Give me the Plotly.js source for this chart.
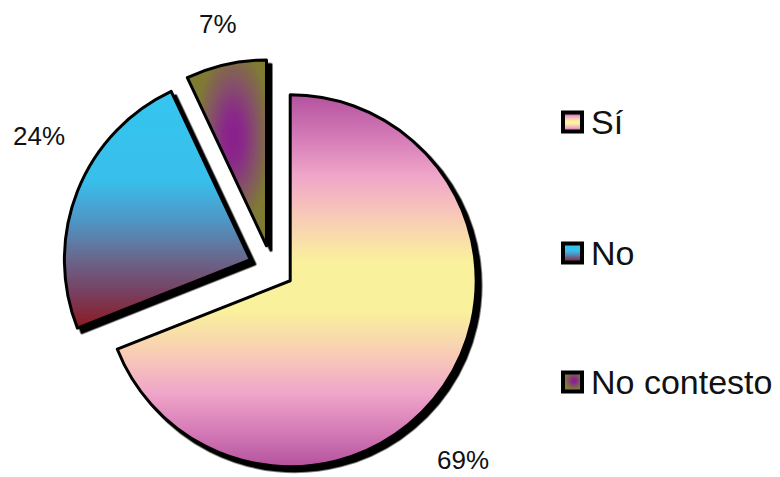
<!DOCTYPE html>
<html>
<head>
<meta charset="utf-8">
<script src="https://cdn.plot.ly/plotly-3.0.1.min.js"></script>
<style>
  html, body { margin: 0; padding: 0; background: #fff; overflow: hidden; }
  #chart { width: 780px; height: 477px; }
</style>
</head>
<body>
<div id="chart"></div>
<script>
// ---- data ----
const categories = ['Sí', 'No', 'No contesto'];
const values = [69, 24, 7];

// ---- layout helpers (pixel -> paper) ----
const W = 780, H = 477;
const px = x => x / W;
const py = y => 1 - y / H;

const total = values.reduce((a, b) => a + b, 0);
const pctText = values.map(v => Math.round(v / total * 100) + '%');

// percent label anchor points (layout only)
const labelPos = [[463, 460], [39, 136], [218, 24]];
// legend rows (layout only)
const legendRows = [122, 253, 382];

const trace = {
  type: 'pie',
  labels: categories,
  values: values,
  sort: false,
  direction: 'clockwise',
  rotation: 0,
  pull: categories.map(() => 0.122),
  textinfo: 'none',
  hoverinfo: 'none',
  showlegend: false,
  marker: {
    colors: ['#F5E89A', '#3FA8D8', '#7F7A32'],
    line: { color: '#000', width: 3 }
  },
  domain: { x: [0.0805, 0.6155], y: [0.0006, 0.8757] }
};

const annotations = [];
pctText.forEach((t, i) => {
  annotations.push({
    text: t, xref: 'paper', yref: 'paper',
    x: px(labelPos[i][0]), y: py(labelPos[i][1]),
    xanchor: 'center', yanchor: 'middle', showarrow: false,
    font: { family: 'Liberation Sans, Arial, sans-serif', size: 26, color: '#111' }
  });
});
categories.forEach((c, i) => {
  annotations.push({
    text: c, xref: 'paper', yref: 'paper',
    x: px(589), y: py(legendRows[i]),
    xanchor: 'left', yanchor: 'middle', showarrow: false,
    font: { family: 'Liberation Sans, Arial, sans-serif', size: 34, color: '#111' }
  });
});

const shapes = categories.map((c, i) => ({
  type: 'rect', xref: 'paper', yref: 'paper', layer: 'above',
  x0: px(563), x1: px(582),
  y0: py(legendRows[i] - 9.5), y1: py(legendRows[i] + 9.5),
  line: { color: '#000', width: 4 },
  fillcolor: trace.marker.colors[i]
}));

const layout = {
  width: W, height: H,
  margin: { l: 0, r: 0, t: 0, b: 0 },
  paper_bgcolor: '#fff',
  showlegend: false,
  annotations: annotations,
  shapes: shapes
};

const NS = 'http://www.w3.org/2000/svg';
function mk(tag, attrs, parent) {
  const el = document.createElementNS(NS, tag);
  for (const k in attrs) el.setAttribute(k, attrs[k]);
  if (parent) parent.appendChild(el);
  return el;
}
function linGrad(defs, id, stops) {
  const g = mk('linearGradient', { id: id, x1: '0', y1: '0', x2: '0', y2: '1' }, defs);
  stops.forEach(s => mk('stop', { offset: s[0], 'stop-color': s[1] }, g));
}
function radGrad(defs, id, cx, cy, r, stops) {
  const g = mk('radialGradient', { id: id, cx: cx, cy: cy, r: r }, defs);
  stops.forEach(s => mk('stop', { offset: s[0], 'stop-color': s[1] }, g));
}

function decorate(gd) {
  const svg = gd.querySelector('svg.main-svg');
  let defs = svg.querySelector('defs');
  if (!defs) defs = mk('defs', {}, svg);
  linGrad(defs, 'gSi', [
    [0, '#B4529E'], [0.12, '#D67DB8'], [0.22, '#F0A6C9'], [0.33, '#F8CBB6'],
    [0.45, '#F9F19C'], [0.58, '#F9F19C'], [0.7, '#F8CBB6'], [0.8, '#F0A6C9'],
    [0.9, '#D67DB8'], [1, '#B4529E']
  ]);
  linGrad(defs, 'gNo', [
    [0, '#35C6F0'], [0.38, '#38BEEA'], [0.55, '#4F95C4'], [0.7, '#68698F'],
    [0.85, '#783F60'], [1, '#8B1A20']
  ]);
  radGrad(defs, 'gNc', '0.58', '0.42', '0.6', [
    [0, '#8A1F8C'], [0.22, '#8A2A88'], [0.5, '#845366'], [0.8, '#7F7A34'], [1, '#7F7A32']
  ]);
  const ids = ['gSi', 'gNo', 'gNc'];
  const f = mk('filter', { id: 'shadow', x: '-10%', y: '-10%', width: '130%', height: '130%' }, defs);
  mk('feDropShadow', { dx: '4.5', dy: '4.5', stdDeviation: '0.5', 'flood-color': '#000', 'flood-opacity': '1' }, f);

  const slices = gd.querySelectorAll('.pielayer .slice path.surface');
  slices.forEach((p, i) => { p.style.fill = 'url(#' + ids[i] + ')'; p.style.fillOpacity = 1; });
  const tr = gd.querySelector('.pielayer .trace');
  if (tr) tr.setAttribute('filter', 'url(#shadow)');

  const sp = gd.querySelectorAll('.shapelayer path');
  sp.forEach((p, i) => {
    if (i < ids.length) { p.style.fill = 'url(#' + ids[i] + ')'; p.style.fillOpacity = 1; }
  });
}

Plotly.newPlot('chart', [trace], layout, { displayModeBar: false, staticPlot: true })
  .then(decorate);
</script>
</body>
</html>
